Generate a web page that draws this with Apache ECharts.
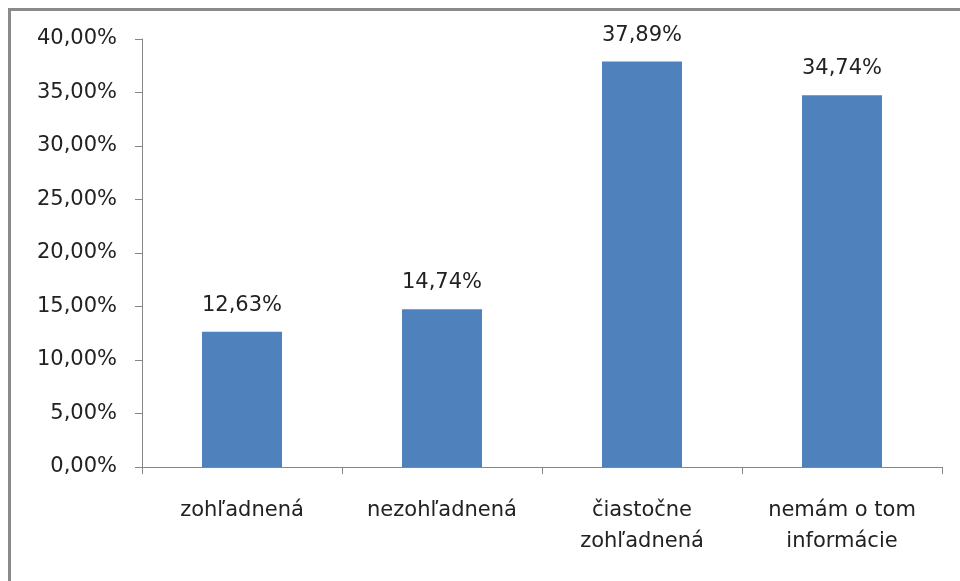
<!DOCTYPE html>
<html>
<head>
<meta charset="utf-8">
<script src="https://cdn.jsdelivr.net/npm/echarts@6/dist/echarts.min.js"></script>
<style>
  html, body { margin: 0; padding: 0; background: #fff; }
  #chart { width: 960px; height: 581px; }
</style>
</head>
<body>
<div id="chart"></div>
<script>
// Categories and values (percent)
const categories = ['zohľadnená', 'nezohľadnená', 'čiastočne\nzohľadnená', 'nemám o tom\ninformácie'];
const values = [12.63, 14.74, 37.89, 34.74];
const yTicks = { min: 0, max: 40, step: 5 };

const fmt = v => v.toFixed(2).replace('.', ',') + '%';
const font = '"DejaVu Sans", Verdana, sans-serif';
const textColor = '#222222';

const chart = echarts.init(document.getElementById('chart'), null, { renderer: 'canvas' });
chart.setOption({
  backgroundColor: '#ffffff',
  animation: false,
  graphic: [{
    type: 'rect',
    shape: { x: 9.5, y: 9.5, width: 960, height: 590 },
    style: { fill: 'none', stroke: '#8a8a8a', lineWidth: 3 },
    silent: true
  }],
  grid: { left: 142, right: 18, top: 39, bottom: 114, containLabel: false },
  xAxis: {
    type: 'category',
    data: categories,
    axisLine: { lineStyle: { color: '#868686', width: 1 } },
    axisTick: { show: true, length: 7, alignWithLabel: false, lineStyle: { color: '#868686' } },
    axisLabel: {
      interval: 0, margin: 28, color: textColor,
      fontFamily: font, fontSize: 21, lineHeight: 31, align: 'center'
    }
  },
  yAxis: {
    type: 'value',
    min: yTicks.min, max: yTicks.max, interval: yTicks.step,
    splitLine: { show: false },
    axisLine: { show: true, lineStyle: { color: '#868686', width: 1 } },
    axisTick: { show: true, length: 7, lineStyle: { color: '#868686' } },
    axisLabel: {
      margin: 25, color: textColor, fontFamily: font, fontSize: 21,
      formatter: v => fmt(v)
    }
  },
  series: [{
    type: 'bar',
    data: values,
    barWidth: '40%',
    itemStyle: { color: '#4F81BD' },
    label: {
      show: true, position: 'top', distance: 16,
      color: textColor, fontFamily: font, fontSize: 21,
      formatter: p => fmt(p.value)
    }
  }]
});
</script>
</body>
</html>
